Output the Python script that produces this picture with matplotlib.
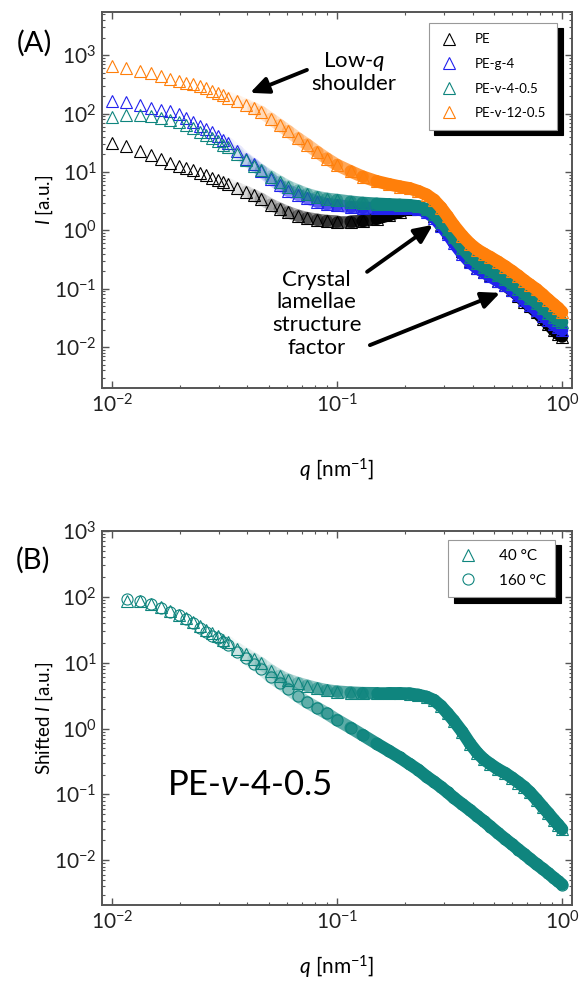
import numpy as np
import matplotlib
matplotlib.use("Agg")
import matplotlib.pyplot as plt
from matplotlib.collections import LineCollection
from matplotlib.ticker import LogLocator, NullFormatter

plt.rcParams['font.family'] = ['Lato', 'DejaVu Sans']
plt.rcParams['mathtext.fontset'] = 'custom'
plt.rcParams['mathtext.rm'] = 'Lato'
plt.rcParams['mathtext.it'] = 'Lato:italic'
plt.rcParams['mathtext.default'] = 'regular'

# ---- panel A data: q in nm^-1, intensities stored as log10(I)
q_A = [0.0100, 0.0116, 0.0133, 0.0149, 0.0165, 0.0182, 0.0198, 0.0214, 0.0230, 0.0247,
       0.0263, 0.0279, 0.0296, 0.0312, 0.0328, 0.0361, 0.0394, 0.0426, 0.0459, 0.0508,
       0.0557, 0.0606, 0.0671, 0.0736, 0.0818, 0.0900, 0.100, 0.115, 0.13, 0.15,
       0.17, 0.19, 0.21, 0.23, 0.25, 0.27, 0.29, 0.31, 0.33, 0.36,
       0.39, 0.42, 0.45, 0.48, 0.52, 0.56, 0.60, 0.64, 0.68, 0.72,
       0.77, 0.82, 0.87, 0.92, 0.96, 1.00]

logI_PE = [1.49, 1.44, 1.36, 1.29, 1.22, 1.15, 1.11, 1.07, 1.03, 0.98,
           0.94, 0.90, 0.87, 0.83, 0.79, 0.72, 0.66, 0.60, 0.54, 0.44,
           0.37, 0.31, 0.25, 0.21, 0.18, 0.16, 0.15, 0.15, 0.16, 0.20,
           0.26, 0.32, 0.37, 0.38, 0.35, 0.25, 0.10, -0.02, -0.15, -0.35,
           -0.52, -0.64, -0.71, -0.77, -0.86, -0.94, -1.03, -1.12, -1.22, -1.30,
           -1.40, -1.51, -1.61, -1.71, -1.77, -1.82]

logI_PEg4 = [2.22, 2.19, 2.14, 2.10, 2.07, 2.04, 1.99, 1.93, 1.86, 1.79,
             1.74, 1.68, 1.61, 1.55, 1.49, 1.36, 1.22, 1.13, 1.02, 0.88,
             0.77, 0.68, 0.61, 0.55, 0.49, 0.45, 0.43, 0.40, 0.385, 0.38,
             0.38, 0.38, 0.38, 0.37, 0.31, 0.22, 0.08, -0.06, -0.21, -0.40,
             -0.55, -0.65, -0.72, -0.79, -0.87, -0.94, -1.02, -1.11, -1.20, -1.28,
             -1.37, -1.46, -1.54, -1.61, -1.66, -1.71]

logI_PEv4 = [1.95, 1.97, 1.98, 1.96, 1.93, 1.89, 1.85, 1.80, 1.76, 1.69,
             1.64, 1.59, 1.53, 1.47, 1.42, 1.31, 1.20, 1.11, 1.03, 0.92,
             0.83, 0.75, 0.68, 0.62, 0.57, 0.54, 0.52, 0.49, 0.47, 0.455,
             0.445, 0.437, 0.43, 0.41, 0.36, 0.28, 0.15, 0.02, -0.12, -0.30,
             -0.45, -0.56, -0.63, -0.69, -0.77, -0.84, -0.92, -1.00, -1.08, -1.16,
             -1.24, -1.33, -1.41, -1.48, -1.53, -1.57]

logI_PEv12 = [2.81, 2.78, 2.73, 2.69, 2.64, 2.60, 2.56, 2.53, 2.50, 2.465,
              2.43, 2.39, 2.35, 2.31, 2.275, 2.21, 2.15, 2.09, 2.03, 1.91,
              1.80, 1.70, 1.575, 1.47, 1.34, 1.23, 1.12, 1.01, 0.92, 0.84,
              0.79, 0.75, 0.72, 0.67, 0.61, 0.52, 0.39, 0.24, 0.09, -0.09,
              -0.23, -0.33, -0.40, -0.46, -0.54, -0.62, -0.70, -0.78, -0.86, -0.93,
              -1.01, -1.10, -1.19, -1.27, -1.33, -1.40]

labels_A = ['PE', 'PE-g-4', 'PE-v-4-0.5', 'PE-v-12-0.5']
colors_A = ['#000000', '#2222EE', '#0F857E', '#FF7F0A']

# ---- panel B data: PE-v-4-0.5 at two temperatures (shifted)
q_B = [0.0117, 0.0133, 0.0149, 0.0165, 0.0182, 0.0198, 0.0214, 0.0230, 0.0247,
       0.0263, 0.0279, 0.0296, 0.0312, 0.0328, 0.0361, 0.0394, 0.0426, 0.0459, 0.0508,
       0.0557, 0.0606, 0.0671, 0.0736, 0.0818, 0.0900, 0.100, 0.115, 0.13, 0.15,
       0.17, 0.19, 0.21, 0.23, 0.25, 0.27, 0.29, 0.31, 0.33, 0.36,
       0.39, 0.42, 0.45, 0.48, 0.52, 0.56, 0.60, 0.64, 0.68, 0.72,
       0.77, 0.82, 0.87, 0.92, 0.96, 1.00]

logI_40C = [1.94, 1.93, 1.89, 1.84, 1.78, 1.73, 1.68, 1.62, 1.56,
            1.50, 1.45, 1.40, 1.35, 1.31, 1.21, 1.13, 1.06, 0.99, 0.88,
            0.80, 0.74, 0.69, 0.65, 0.61, 0.58, 0.56, 0.545, 0.537, 0.535,
            0.535, 0.534, 0.53, 0.51, 0.48, 0.43, 0.34, 0.23, 0.12, -0.05,
            -0.23, -0.37, -0.47, -0.54, -0.62, -0.68, -0.75, -0.82, -0.89, -0.97,
            -1.08, -1.19, -1.29, -1.39, -1.46, -1.53]

logI_160C = [1.965, 1.94, 1.89, 1.83, 1.77, 1.72, 1.67, 1.60, 1.53,
             1.47, 1.41, 1.37, 1.32, 1.27, 1.16, 1.07, 0.98, 0.91, 0.78,
             0.69, 0.60, 0.49, 0.40, 0.31, 0.23, 0.13, 0.01, -0.10, -0.23,
             -0.34, -0.44, -0.54, -0.63, -0.73, -0.81, -0.89, -0.97, -1.05, -1.15,
             -1.24, -1.33, -1.41, -1.49, -1.59, -1.68, -1.76, -1.84, -1.91, -1.98,
             -2.06, -2.13, -2.20, -2.27, -2.32, -2.37]

teal = '#0F857E'
spine_col = '#555555'


def band(ax, q, I, color, lw=9.0, z=3):
    # overlapping markers in the original turn into a solid band at high q
    q = np.asarray(q)
    I = np.asarray(I)
    pts = np.column_stack([q, I]).reshape(-1, 1, 2)
    segs = np.concatenate([pts[:-1], pts[1:]], axis=1)
    lq = np.log10(0.5 * (q[:-1] + q[1:]))
    a = np.clip((lq + 1.55) / 0.75, 0, 1) ** 1.5
    rgba = np.array([matplotlib.colors.to_rgba(color, x) for x in a])
    lc = LineCollection(segs, colors=rgba, linewidths=lw, capstyle='round', zorder=z)
    ax.add_collection(lc)


def style_axes(ax, ylim):
    ax.set_xscale('log')
    ax.set_yscale('log')
    ax.set_xlim(10 ** -2.044, 10 ** 0.044)
    ax.set_ylim(*ylim)
    ax.xaxis.set_major_locator(LogLocator(base=10, numticks=20))
    ax.yaxis.set_major_locator(LogLocator(base=10, numticks=20))
    ax.xaxis.set_minor_locator(LogLocator(base=10, subs=np.arange(2, 10), numticks=100))
    ax.yaxis.set_minor_locator(LogLocator(base=10, subs=np.arange(2, 10), numticks=100))
    ax.xaxis.set_minor_formatter(NullFormatter())
    ax.yaxis.set_minor_formatter(NullFormatter())
    ax.tick_params(which='both', direction='in', top=True, right=True,
                   color=spine_col, labelsize=15, labelcolor='#222222')
    ax.tick_params(which='major', length=5, width=1.0)
    ax.tick_params(which='minor', length=2.5, width=0.8)
    ax.tick_params(axis='y', pad=4)
    ax.tick_params(axis='x', pad=4)
    for s in ax.spines.values():
        s.set_color(spine_col)
        s.set_linewidth(1.4)


fig = plt.figure(figsize=(5.8, 9.84), dpi=100)

# ================= panel A
axA = fig.add_axes([0.1759, 0.6057, 0.8103, 0.3821])
style_axes(axA, (10 ** -2.7, 10 ** 3.74))
z = 2
for I_log, lab, col in zip([logI_PE, logI_PEg4, logI_PEv4, logI_PEv12], labels_A, colors_A):
    I = 10 ** np.array(I_log)
    axA.plot(q_A, I, ls='none', marker='^', ms=8.5, mfc='none', mec=col, mew=0.8,
             label=lab, zorder=z)
    band(axA, q_A, I, col, z=z + 0.5)
    z += 1

axA.set_xlabel('$\\mathit{q}$ [nm$^{-1}$]', fontsize=15)
axA.set_ylabel('$\\mathit{I}$ [a.u.]', fontsize=13.5)
axA.xaxis.set_label_coords(0.5, -0.183)
axA.yaxis.set_label_coords(-0.10, 0.5)

legA = axA.legend(loc='upper right', bbox_to_anchor=(0.968, 0.971), fontsize=9.5,
                  frameon=True, fancybox=False, framealpha=1, edgecolor='#999999',
                  handlelength=1.4, handletextpad=1.3, labelspacing=0.95, borderpad=0.8,
                  borderaxespad=0,
                  shadow={'color': 'k', 'alpha': 1, 'ox': 4, 'oy': -4})
legA.get_frame().set_linewidth(0.8)
legA.set_zorder(10)

arrow_kw = dict(arrowstyle='-|>,head_length=0.55,head_width=0.25', color='k', lw=2.8,
                mutation_scale=20, shrinkA=0, shrinkB=0)
axA.text(0.536, 0.840, 'Low-$\\mathit{q}$\nshoulder', transform=axA.transAxes, ha='center',
         va='center', fontsize=16, linespacing=1.05)
axA.annotate('', xy=(0.315, 0.785), xytext=(0.436, 0.846), xycoords='axes fraction',
             arrowprops=arrow_kw)
axA.text(0.457, 0.197, 'Crystal\nlamellae\nstructure\nfactor', transform=axA.transAxes,
         ha='center', va='center', fontsize=16, linespacing=1.18)
axA.annotate('', xy=(0.704, 0.434), xytext=(0.564, 0.309), xycoords='axes fraction',
             arrowprops=arrow_kw)
axA.annotate('', xy=(0.847, 0.253), xytext=(0.570, 0.114), xycoords='axes fraction',
             arrowprops=arrow_kw)

fig.text(0.06, 0.956, '(A)', fontsize=21, ha='center', va='center')

# ================= panel B
axB = fig.add_axes([0.1759, 0.0803, 0.8103, 0.3801])
style_axes(axB, (10 ** -2.68, 10 ** 3))
I40 = 10 ** np.array(logI_40C)
I160 = 10 ** np.array(logI_160C)
axB.plot(q_B, I40, ls='none', marker='^', ms=8.5, mfc='none', mec=teal, mew=0.8,
         label='40 °C', zorder=2)
band(axB, q_B, I40, teal, z=2.5)
axB.plot(q_B, I160, ls='none', marker='o', ms=8, mfc='none', mec=teal, mew=0.8,
         label='160 °C', zorder=3)
band(axB, q_B, I160, teal, z=3.5)

axB.set_xlabel('$\\mathit{q}$ [nm$^{-1}$]', fontsize=15)
axB.set_ylabel('Shifted $\\mathit{I}$ [a.u.]', fontsize=13.5)
axB.xaxis.set_label_coords(0.5, -0.13)
axB.yaxis.set_label_coords(-0.10, 0.5)

legB = axB.legend(loc='upper right', bbox_to_anchor=(0.964, 0.976), fontsize=11,
                  frameon=True, fancybox=False, framealpha=1, edgecolor='#999999',
                  handlelength=1.4, handletextpad=1.3, labelspacing=0.7, borderpad=0.6,
                  borderaxespad=0,
                  shadow={'color': 'k', 'alpha': 1, 'ox': 4, 'oy': -4})
legB.get_frame().set_linewidth(0.8)
legB.set_zorder(10)

axB.text(0.313, 0.321, 'PE-$\\mathit{\\nu}$-4-0.5', transform=axB.transAxes, ha='center',
         va='center', fontsize=25)

fig.text(0.057, 0.431, '(B)', fontsize=21, ha='center', va='center')

fig.savefig('out.png', dpi=100)
